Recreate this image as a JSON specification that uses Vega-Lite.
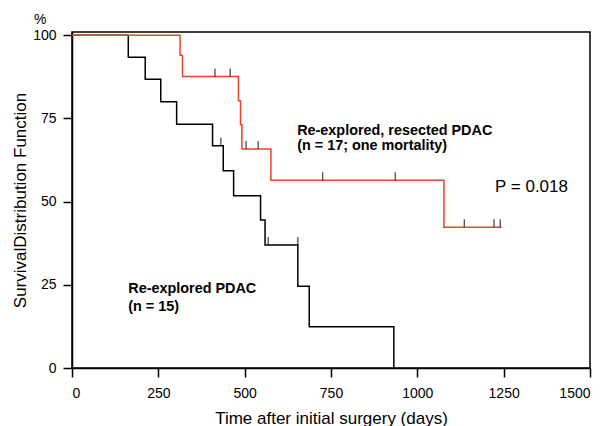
{
  "$schema": "https://vega.github.io/schema/vega-lite/v6.json",
  "width": 518,
  "height": 336,
  "autosize": {"type": "none"},
  "padding": {"left": 72, "top": 32, "right": 15, "bottom": 58},
  "background": "white",
  "config": {
    "font": "Liberation Sans",
    "view": {"stroke": "#000000", "strokeWidth": 1.5},
    "axis": {
      "domainColor": "#000000", "domainWidth": 1.5,
      "tickColor": "#000000", "tickWidth": 1.5, "tickSize": 9,
      "labelColor": "#000000", "labelFont": "Liberation Sans", "labelFontSize": 14,
      "titleColor": "#000000", "titleFont": "Liberation Sans", "titleFontSize": 17, "titleFontWeight": "normal",
      "grid": false
    }
  },
  "title": {"text": "%", "anchor": "start", "frame": "group", "dx": -38, "dy": 19, "offset": 9, "fontSize": 14, "fontWeight": "normal", "font": "Liberation Sans", "color": "#000000", "baseline": "alphabetic"},
  "datasets": {
    "curves": [
      {"group": "explored", "day": 0, "surv": 100},
      {"group": "explored", "day": 163, "surv": 93.4},
      {"group": "explored", "day": 212, "surv": 86.8},
      {"group": "explored", "day": 257, "surv": 80.0},
      {"group": "explored", "day": 303, "surv": 73.3},
      {"group": "explored", "day": 407, "surv": 66.8},
      {"group": "explored", "day": 438, "surv": 59.3},
      {"group": "explored", "day": 468, "surv": 51.8},
      {"group": "explored", "day": 546, "surv": 44.5},
      {"group": "explored", "day": 559, "surv": 37.0},
      {"group": "explored", "day": 654, "surv": 24.6},
      {"group": "explored", "day": 687, "surv": 12.4},
      {"group": "explored", "day": 932, "surv": 0},
      {"group": "resected", "day": 0, "surv": 100},
      {"group": "resected", "day": 313, "surv": 94.0},
      {"group": "resected", "day": 320, "surv": 87.6},
      {"group": "resected", "day": 482, "surv": 80.3},
      {"group": "resected", "day": 488, "surv": 73.1},
      {"group": "resected", "day": 492, "surv": 65.8},
      {"group": "resected", "day": 576, "surv": 56.4},
      {"group": "resected", "day": 1077, "surv": 42.3},
      {"group": "resected", "day": 1244, "surv": 42.3}
    ],
    "censored": [
      {"group": "explored", "day": 431, "surv": 66.8},
      {"group": "explored", "day": 568, "surv": 37.0},
      {"group": "explored", "day": 654, "surv": 37.0},
      {"group": "resected", "day": 414, "surv": 87.6},
      {"group": "resected", "day": 458, "surv": 87.6},
      {"group": "resected", "day": 504, "surv": 65.8},
      {"group": "resected", "day": 539, "surv": 65.8},
      {"group": "resected", "day": 726, "surv": 56.4},
      {"group": "resected", "day": 936, "surv": 56.4},
      {"group": "resected", "day": 1136, "surv": 42.3},
      {"group": "resected", "day": 1222, "surv": 42.3},
      {"group": "resected", "day": 1240, "surv": 42.3}
    ],
    "labels": [
      {"kind": "bold", "day": 652, "surv": 70.1, "text": "Re-explored, resected PDAC"},
      {"kind": "bold", "day": 652, "surv": 65.5, "text": "(n = 17; one mortality)"},
      {"kind": "bold", "day": 163, "surv": 22.5, "text": "Re-explored PDAC"},
      {"kind": "bold", "day": 163, "surv": 17.1, "text": "(n = 15)"},
      {"kind": "plain", "day": 1225, "surv": 53.0, "text": "P = 0.018"}
    ]
  },
  "encoding": {
    "x": {"field": "day", "type": "quantitative", "scale": {"domain": [0, 1500], "nice": false, "zero": false},
      "axis": {"title": "Time after initial surgery (days)", "format": "d", "values": [0, 250, 500, 750, 1000, 1250, 1500], "labelPadding": 9, "titleY": 55, "titleBaseline": "alphabetic"}},
    "y": {"field": "surv", "type": "quantitative", "scale": {"domain": [0, 101], "nice": false},
      "axis": {"title": "SurvivalDistribution Function", "values": [0, 25, 50, 75, 100], "labelPadding": 7, "titleX": -47, "titleY": 168, "titleAngle": -90, "titleAlign": "center", "titleBaseline": "alphabetic"}}
  },
  "layer": [
    {
      "data": {"name": "curves"},
      "transform": [{"filter": "datum.group === 'explored'"}],
      "mark": {"type": "line", "interpolate": "step-after", "color": "#000000", "strokeWidth": 1.5}
    },
    {
      "data": {"name": "curves"},
      "transform": [{"filter": "datum.group === 'resected'"}],
      "mark": {"type": "line", "interpolate": "step-after", "color": "#e8442c", "strokeWidth": 1.5}
    },
    {
      "data": {"name": "censored"},
      "mark": {"type": "tick", "orient": "vertical", "size": 8, "thickness": 1.3, "yOffset": -4, "color": "#000000"}
    },
    {
      "data": {"name": "labels"},
      "transform": [{"filter": "datum.kind === 'bold'"}],
      "mark": {"type": "text", "align": "left", "baseline": "alphabetic", "fontSize": 14.4, "fontWeight": "bold", "font": "Liberation Sans", "color": "#000000"},
      "encoding": {"text": {"field": "text"}}
    },
    {
      "data": {"name": "labels"},
      "transform": [{"filter": "datum.kind === 'plain'"}],
      "mark": {"type": "text", "align": "left", "baseline": "alphabetic", "fontSize": 17, "font": "Liberation Sans", "color": "#000000"},
      "encoding": {"text": {"field": "text"}}
    }
  ]
}
